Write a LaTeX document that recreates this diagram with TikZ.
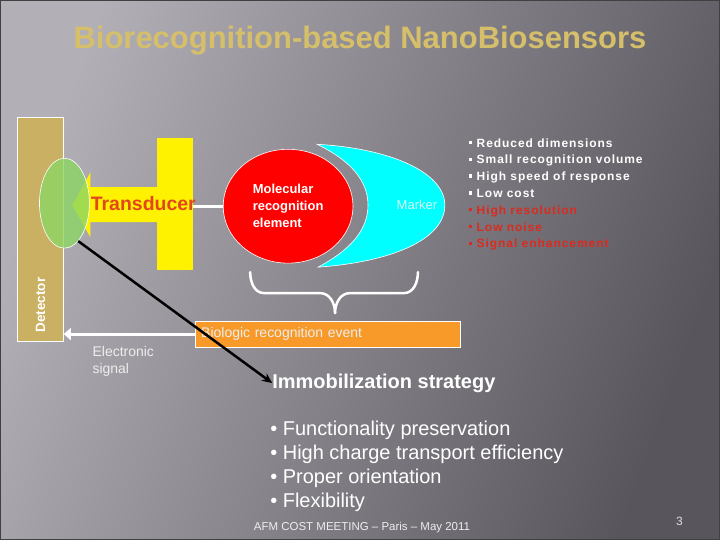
\documentclass[tikz,border=0pt]{standalone}
\usepackage{fontspec}
\setmainfont{Liberation Sans}
\newfontfamily\spacedfont[LetterSpace=8]{Liberation Sans}
\usetikzlibrary{shapes.geometric, arrows.meta, positioning, calc}

\definecolor{slidelight}{HTML}{B2B0B6}
\definecolor{slidemid}{HTML}{78767C}
\definecolor{slidedark}{HTML}{58565C}
\definecolor{titlegold}{HTML}{D6BF6A}
\definecolor{detectortan}{HTML}{C9B062}
\definecolor{transorange}{HTML}{E2461A}
\definecolor{eventorange}{HTML}{F79A2A}
\definecolor{listred}{HTML}{DC2A1E}
\definecolor{softwhite}{HTML}{EDEDED}
\definecolor{sensorgreen}{HTML}{8CD664}
\definecolor{markercyan}{HTML}{00FFFF}
\definecolor{markertext}{HTML}{D8F4F4}

\newcommand{\sqbullet}{\rule[0.25em]{0.28em}{0.28em}\ }

\begin{document}
\begin{tikzpicture}[
    x=1pt, y=-1pt,
    box/.style={rectangle, draw=white, line width=0.8pt, inner sep=0pt},
    blob/.style={ellipse, draw=white, line width=0.6pt, inner sep=0pt},
    txt/.style={inner sep=0pt, align=left},
    whiteline/.style={draw=white, line width=3pt},
    arrow/.style={-{Stealth[length=10pt, width=9pt]}, line width=2.5pt}
]

% Background
\shade[left color=slidelight, middle color=slidemid, right color=slidedark, shading angle=70] (0,0) rectangle (720,540);
\draw[black!75, line width=1pt] (0,0) rectangle (720,540);

% Title
\node[font=\fontsize{31}{36}\selectfont\bfseries, text=titlegold] (title) at (360,40) {Biorecognition-based NanoBiosensors};

% Detector
\node[box, fill=detectortan, minimum width=46pt, minimum height=224pt] (detector) at (40,229) {};
\node[rotate=90, font=\fontsize{13.5}{16}\selectfont\bfseries, text=white] (detlabel) at (40,305) {Detector};

% Transducer
\node[fill=yellow, minimum width=36pt, minimum height=132pt, inner sep=0pt] (bar) at (175,204) {};
\fill[yellow] (72,205) -- (90,172) -- (90,187) -- (158,187) -- (158,222) -- (90,222) -- (90,237) -- cycle;
\node[blob, fill=sensorgreen, fill opacity=0.8, minimum width=50pt, minimum height=90pt] (interface) at (64,203) {};
\node[font=\fontsize{19.5}{23}\selectfont\bfseries, text=transorange] (translabel) at (143,203) {Transducer};

% Recognition element and marker
\node[blob, fill=red, minimum width=130pt, minimum height=114pt, align=left, text=white,
      font=\fontsize{13}{17}\selectfont\bfseries] (molecular) at (288,206) {Molecular\\recognition\\element};
\draw[whiteline] (bar.east |- molecular.west) -- (molecular.west);
\filldraw[fill=markercyan, draw=white, line width=0.6pt] (317,144) .. controls (390,148) and (445,172) .. (445,205)
    .. controls (445,240) and (390,262) .. (318,267)
    .. controls (350,250) and (368,230) .. (368,205)
    .. controls (368,180) and (350,160) .. (317,144) -- cycle;
\node[font=\fontsize{13}{16}\selectfont, text=markertext] (marker) at (417,205) {Marker};

% Brace
\draw[white, line width=2.5pt, line cap=round] (250,272) to[out=-90, in=180] (264,293) -- (320,293) to[out=0, in=90] (335,313);
\draw[white, line width=2.5pt, line cap=round] (335,313) to[out=90, in=180] (350,293) -- (404,293) to[out=0, in=-90] (418,272);

% Biologic recognition event
\node[box, fill=eventorange, minimum width=266pt, minimum height=26pt, text width=254pt, align=left,
      font=\fontsize{14}{17}\selectfont, text=softwhite] (event) at (328,334) {Biologic recognition event};
\draw[whiteline, -{Triangle[length=7pt, width=12pt]}] (event.west) -- (event.west -| detector.east);
\node[txt, anchor=north west, font=\fontsize{14}{17}\selectfont, text=softwhite] (signal) at (92,346) {Electronic\\signal};

% Immobilization strategy
\node[txt, anchor=west, font=\fontsize{20}{24}\selectfont\bfseries, text=white] (immob) at (272,383) {Immobilization strategy};
\draw[arrow, black] (interface.-70) -- (immob.west);
\node[txt, anchor=north west, font=\fontsize{20}{24}\selectfont, text=white] (props) at (270,421) {%
  • Functionality preservation\\
  • High charge transport efficiency\\
  • Proper orientation\\
  • Flexibility};

% Advantages
\node[txt, anchor=north west, font=\spacedfont\fontsize{12}{16.8}\selectfont\bfseries, text=white] (advantages) at (469,138) {%
  \sqbullet Reduced dimensions\\
  \sqbullet Small recognition volume\\
  \sqbullet High speed of response\\
  \sqbullet Low cost\\
  \textcolor{listred}{\sqbullet High resolution}\\
  \textcolor{listred}{\sqbullet Low noise}\\
  \textcolor{listred}{\sqbullet Signal enhancement}};

% Footer
\node[font=\fontsize{11.5}{14}\selectfont, text=softwhite] (footer) at (362,528) {AFM COST MEETING – Paris – May 2011};
\node[font=\fontsize{12}{14}\selectfont, text=softwhite!85!gray] (pagenum) at (680,522) {3};

\end{tikzpicture}
\end{document}
